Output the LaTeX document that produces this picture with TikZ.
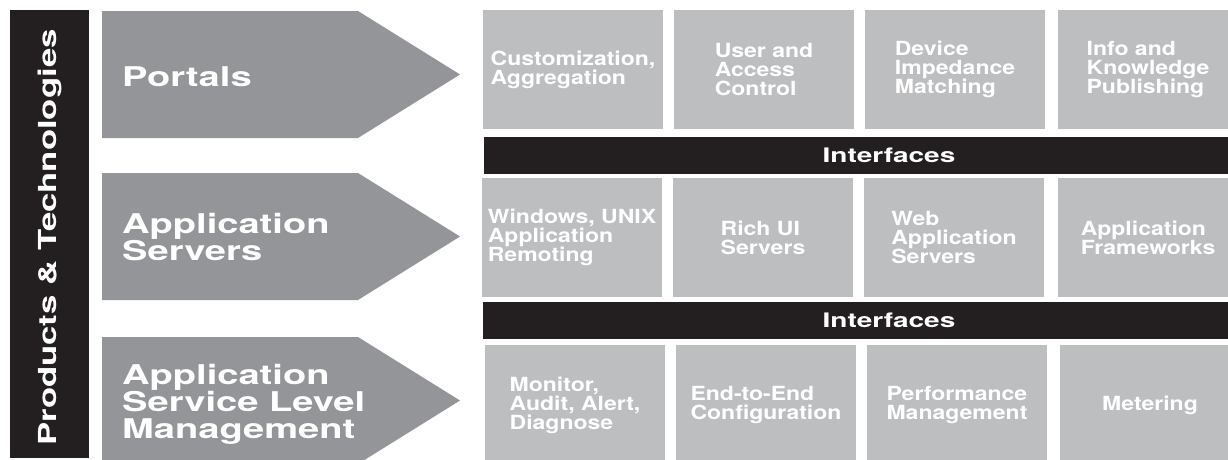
\documentclass[tikz,border=0pt]{standalone}
\usepackage{fontspec}
\newfontfamily\hfont[FakeStretch=1.4]{TeX Gyre Heros}
\newfontfamily\cfont[FakeStretch=1.18]{TeX Gyre Heros}
\definecolor{arrowgray}{HTML}{939598}
\definecolor{boxgray}{HTML}{BCBEC0}
\definecolor{ink}{HTML}{231F20}
\tikzset{
  arrowshape/.style={fill=arrowgray, draw=none},
  arrowtext/.style={text=white, anchor=west, align=left, inner sep=0pt,
    font={\hfont\bfseries\fontsize{27.2}{27}\selectfont}},
  cell/.style={fill=boxgray, draw=none, minimum width=180pt, inner sep=0pt,
    text=white, align=left, font={\cfont\bfseries\fontsize{19.5}{19}\selectfont}},
  bar/.style={fill=ink, draw=none},
  bartext/.style={text=white, inner sep=0pt, font={\hfont\bfseries\fontsize{20}{20}\selectfont}},
  sidebar/.style={fill=ink, draw=none, minimum width=79pt, minimum height=448pt, inner sep=0pt},
  sidetextstyle/.style={text=white, rotate=90, inner sep=0pt,
    font={\hfont\bfseries\fontsize{24.8}{25}\selectfont}}
}
\begin{document}
\begin{tikzpicture}[x=1pt,y=-1pt]
\useasboundingbox (0,0) rectangle (1228,459);
\clip (0,0) rectangle (1228,459);
% left side bar
\node[sidebar] (side) at (49.5,234) {};
\node[sidetextstyle] (sidetext) at (49.5,237.5) {Products \& Technologies};
% arrows
\fill[arrowshape] (102,11) -- (358,11) -- (460,74.5) -- (358,138) -- (102,138) -- cycle;
\fill[arrowshape] (102,173) -- (358,173) -- (460,236.5) -- (358,300) -- (102,300) -- cycle;
\fill[arrowshape] (102,337) -- (358,337) -- (460,400.5) -- (358,464) -- (102,464) -- cycle;
\node[arrowtext] (a1) at (122,77) {Portals};
\node[arrowtext] (a2) at (122,237) {Application\\Servers};
\node[arrowtext] (a3) at (122,404) {Application\\Service Level\\Management};
% row 1
\node[cell, minimum height=119pt] (c11) at (573,69.5) {Customization,\\Aggregation};
\node[cell, minimum height=119pt] (c12) at (764,69.5) {User and\\Access\\Control};
\node[cell, minimum height=119pt] (c13) at (955,69.5) {Device\\Impedance\\Matching};
\node[cell, minimum height=119pt] (c14) at (1148,69.5) {Info and\\Knowledge\\Publishing};
% interface bar 1
\fill[bar] (484,137) rectangle (1300,174);
\node[bartext] (i1) at (889,155.5) {Interfaces};
% row 2
\node[cell, minimum height=119pt] (c21) at (572,237.5) {Windows, UNIX\\Application\\Remoting};
\node[cell, minimum height=119pt] (c22) at (763,237.5) {Rich UI\\Servers};
\node[cell, minimum height=119pt] (c23) at (954,237.5) {Web\\Application\\Servers};
\node[cell, minimum height=119pt] (c24) at (1148,237.5) {Application\\Frameworks};
% interface bar 2
\fill[bar] (483,302) rectangle (1300,339);
\node[bartext] (i2) at (889,320.5) {Interfaces};
% row 3
\node[cell, minimum height=120pt] (c31) at (575,405) {Monitor,\\Audit, Alert,\\Diagnose};
\node[cell, minimum height=120pt] (c32) at (766,405) {End-to-End\\Configuration};
\node[cell, minimum height=120pt] (c33) at (957,405) {Performance\\Management};
\node[cell, minimum height=120pt] (c34) at (1150,405) {Metering};
\end{tikzpicture}
\end{document}
